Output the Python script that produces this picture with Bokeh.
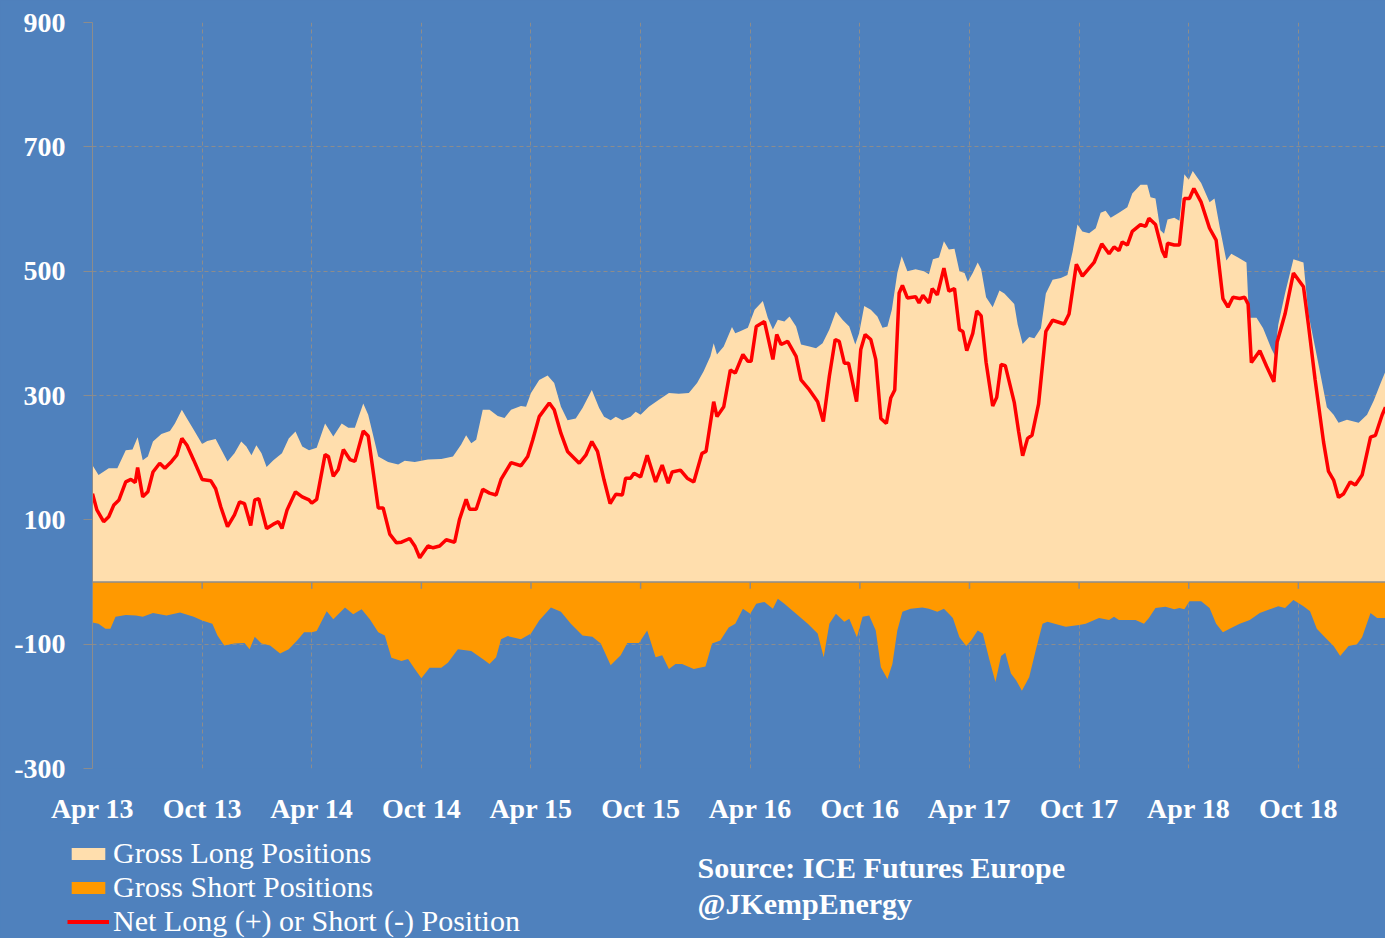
from bokeh.plotting import figure
from bokeh.layouts import column
from bokeh.models import Range1d, FixedTicker, Span, Legend, LegendItem, Label
from bokeh.embed import file_html
from bokeh.resources import INLINE

# ---- data (months since Apr 2013, thousand lots) ----
tick_months = [0, 6, 12, 18, 24, 30, 36, 42, 48, 54, 60, 66]
tick_labels = ["Apr 13", "Oct 13", "Apr 14", "Oct 14", "Apr 15", "Oct 15",
               "Apr 16", "Oct 16", "Apr 17", "Oct 17", "Apr 18", "Oct 18"]
y_ticks = [-300, -100, 100, 300, 500, 700, 900]
series_labels = ["Gross Long Positions", "Gross Short Positions", "Net Long (+) or Short (-) Position"]
source_lines = ["Source:  ICE Futures Europe", "@JKempEnergy"]

long_m = [0.00, 0.33, 0.89, 1.36, 1.82, 2.19, 2.47, 2.75, 3.03, 3.31, 3.77, 4.24, 4.51, 4.89, 5.17, 5.54,
          6.00, 6.28, 6.74, 7.39, 7.77, 8.14, 8.42, 8.70, 8.97, 9.25, 9.53, 9.90, 10.37, 10.74, 11.11, 11.48,
          11.85, 12.27, 12.73, 13.18, 13.64, 14.00, 14.36, 14.82, 15.09, 15.64, 16.18, 16.73, 17.09, 17.64,
          18.36, 19.09, 19.73, 20.18, 20.45, 20.73, 21.00, 21.36, 21.73, 22.18, 22.55, 22.91, 23.45, 23.73,
          24.00, 24.45, 24.91, 25.27, 25.64, 26.00, 26.45, 26.82, 27.33, 27.73, 28.00, 28.36, 28.64, 29.00,
          29.45, 29.73, 30.00, 30.45, 31.00, 31.55, 32.09, 32.64, 33.09, 33.45, 33.82, 34.00, 34.18, 34.55,
          35.00, 35.18, 35.42, 35.87, 36.24, 36.69, 36.96, 37.24, 37.51, 37.87, 38.15, 38.51, 38.78, 39.24,
          39.60, 39.96, 40.33, 40.69, 41.05, 41.42, 41.75, 41.96, 42.24, 42.60, 42.96, 43.24, 43.51, 43.75,
          44.05, 44.29, 44.60, 45.05, 45.51, 45.78, 46.00, 46.33, 46.60, 46.87, 47.18, 47.45, 47.73, 47.91,
          48.18, 48.45, 48.64, 48.91, 49.27, 49.64, 49.91, 50.45, 50.64, 50.91, 51.27, 51.55, 51.91, 52.18,
          52.55, 53.00, 53.36, 53.64, 53.91, 54.18, 54.55, 54.91, 55.18, 55.45, 55.73, 56.18, 56.64, 56.91,
          57.36, 57.73, 57.91, 58.18, 58.45, 58.65, 58.84, 59.21, 59.49, 59.76, 60.00, 60.22, 60.68, 61.14,
          61.41, 61.69, 62.06, 62.33, 62.70, 63.16, 63.30, 63.71, 64.07, 64.53, 64.72, 64.90, 65.27, 65.73,
          66.28, 66.55, 67.01, 67.56, 67.93, 68.20, 68.66, 69.03, 69.30, 69.76, 70.13, 70.49, 70.77]
long_v = [188, 172, 183, 183, 212, 213, 233, 196, 202, 226, 238, 243, 255, 277, 263, 245,
          222, 227, 230, 194, 207, 226, 218, 204, 220, 207, 185, 196, 207, 231, 242, 218,
          212, 216, 255, 234, 255, 248, 248, 287, 269, 202, 193, 189, 195, 193,
          197, 198, 202, 221, 236, 223, 229, 277, 277, 267, 264, 277, 283, 282,
          304, 325, 332, 320, 282, 260, 263, 280, 309, 280, 266, 260, 266, 260,
          266, 274, 269, 282, 293, 304, 303, 304, 320, 339, 363, 384, 366, 379,
          410, 400, 403, 409, 438, 452, 425, 406, 422, 419, 427, 411, 382, 379,
          376, 384, 406, 435, 422, 411, 382, 400, 444, 438, 427, 409, 411, 438,
          497, 524, 500, 503, 500, 495, 519, 522, 548, 535, 536, 500, 497, 483,
          497, 514, 503, 458, 442, 469, 464, 447, 414, 383, 394, 392, 408, 464,
          486, 489, 494, 531, 575, 564, 561, 569, 594, 597, 586, 594, 603, 625,
          639, 639, 619, 617, 566, 560, 583, 586, 581, 656, 647, 661, 642, 611,
          617, 572, 517, 528, 522, 514, 425, 425, 408, 375, 364, 414, 464, 519,
          514, 431, 364, 281, 269, 256, 261, 258, 256, 269, 292, 319, 339]

net_m = [0.00, 0.24, 0.61, 0.89, 1.17, 1.45, 1.82, 2.10, 2.34, 2.47, 2.75, 3.03, 3.31, 3.68, 3.96, 4.33,
         4.61, 4.89, 5.17, 5.54, 6.00, 6.47, 6.74, 7.02, 7.39, 7.77, 8.05, 8.32, 8.66, 8.88, 9.10, 9.53,
         9.90, 10.18, 10.37, 10.65, 11.11, 11.48, 11.85, 12.00, 12.27, 12.73, 12.91, 13.18, 13.45, 13.73,
         14.09, 14.36, 14.82, 15.09, 15.64, 15.91, 16.27, 16.64, 16.91, 17.36, 17.64, 17.91, 18.36, 18.64,
         19.00, 19.36, 19.82, 20.09, 20.45, 20.64, 21.00, 21.36, 21.73, 22.09, 22.36, 22.91, 23.45, 23.82,
         24.09, 24.45, 25.00, 25.27, 25.64, 26.00, 26.64, 27.00, 27.33, 27.64, 28.00, 28.33, 28.64, 29.00,
         29.18, 29.45, 29.64, 30.00, 30.36, 30.82, 31.18, 31.51, 31.73, 32.18, 32.55, 32.91, 33.36, 33.58,
         34.00, 34.18, 34.55, 34.91, 35.18, 35.60, 35.87, 36.05, 36.33, 36.78, 37.24, 37.45, 37.69, 38.05,
         38.51, 38.78, 39.24, 39.69, 40.00, 40.33, 40.65, 40.87, 41.15, 41.38, 41.82, 42.05, 42.29, 42.60,
         42.87, 43.15, 43.45, 43.69, 43.91, 44.15, 44.33, 44.60, 45.05, 45.24, 45.45, 45.78, 45.96, 46.24,
         46.60, 46.87, 47.18, 47.45, 47.64, 47.85, 48.18, 48.40, 48.64, 48.91, 49.27, 49.49, 49.73, 49.96,
         50.45, 50.69, 50.91, 51.18, 51.42, 51.78, 52.18, 52.55, 53.18, 53.45, 53.85, 54.18, 54.82, 55.24,
         55.64, 55.91, 56.18, 56.36, 56.64, 56.91, 57.36, 57.64, 57.82, 58.18, 58.55, 58.73, 58.84, 59.21,
         59.49, 59.76, 60.04, 60.28, 60.68, 61.14, 61.50, 61.87, 62.15, 62.42, 62.79, 63.06, 63.25, 63.43,
         63.89, 64.26, 64.66, 64.84, 65.27, 65.73, 66.28, 66.55, 66.92, 67.38, 67.65, 67.93, 68.20, 68.48,
         68.84, 69.12, 69.49, 69.95, 70.22, 70.59, 70.77]
net_v = [142, 116, 97, 105, 124, 132, 161, 165, 160, 184, 137, 145, 177, 191, 183, 194,
         204, 231, 220, 196, 165, 163, 150, 121, 89, 108, 129, 126, 91, 132, 134, 86,
         93, 97, 86, 116, 145, 137, 132, 127, 133, 205, 202, 170, 181, 213,
         197, 194, 243, 235, 119, 119, 77, 63, 64, 70, 58, 39, 58, 55,
         58, 68, 64, 101, 133, 117, 117, 149, 143, 140, 165, 192, 187, 202,
         228, 266, 288, 277, 239, 210, 191, 204, 226, 210, 164, 126, 141, 140,
         167, 167, 175, 169, 204, 161, 188, 159, 177, 180, 167, 161, 207, 210,
         290, 266, 282, 341, 336, 366, 355, 355, 411, 419, 358, 398, 382, 387,
         363, 325, 309, 290, 258, 331, 390, 387, 352, 352, 290, 374, 398, 390,
         358, 263, 255, 296, 309, 465, 477, 457, 459, 449, 461, 449, 472, 462,
         505, 468, 472, 406, 403, 372, 400, 436, 428, 353, 283, 297, 350, 348,
         289, 242, 203, 231, 236, 286, 403, 421, 415, 431, 511, 492, 514, 544,
         528, 539, 533, 547, 542, 564, 575, 572, 585, 575, 533, 522, 545, 542,
         542, 617, 617, 633, 611, 569, 550, 456, 442, 458, 456, 458, 447, 353,
         372, 347, 322, 386, 431, 497, 475, 414, 325, 225, 178, 164, 136, 142,
         161, 156, 172, 233, 236, 269, 281]

short_m = [0.00, 0.33, 0.71, 0.98, 1.26, 1.82, 2.38, 2.75, 3.31, 4.05, 4.79, 5.54, 6.00, 6.56, 6.84, 7.21,
           7.77, 8.32, 8.60, 8.88, 9.25, 9.72, 10.27, 10.74, 11.20, 11.58, 12.00, 12.27, 12.82, 13.18, 13.82,
           14.27, 14.73, 15.18, 15.64, 16.00, 16.36, 16.91, 17.27, 17.64, 18.00, 18.45, 19.09, 19.45, 20.00,
           20.73, 21.36, 21.73, 22.09, 22.36, 22.73, 23.45, 24.00, 24.45, 25.09, 25.64, 26.18, 26.82, 27.36,
           27.82, 28.36, 28.91, 29.27, 29.91, 30.36, 30.82, 31.18, 31.55, 31.91, 32.27, 32.91, 33.55, 33.91,
           34.36, 34.82, 35.18, 35.60, 36.00, 36.33, 36.78, 37.24, 37.51, 37.87, 38.51, 39.15, 39.69, 40.02,
           40.33, 40.69, 41.15, 41.42, 41.84, 42.15, 42.51, 42.87, 43.15, 43.51, 43.78, 44.05, 44.33, 44.78,
           45.42, 45.78, 46.24, 46.60, 46.87, 47.09, 47.45, 47.82, 48.09, 48.45, 48.73, 49.09, 49.42, 49.73,
           49.96, 50.27, 50.55, 50.87, 51.27, 51.64, 52.00, 52.27, 52.91, 53.27, 54.00, 54.36, 55.09, 55.64,
           55.91, 56.18, 57.09, 57.55, 57.82, 58.18, 58.73, 59.21, 59.49, 59.76, 60.04, 60.68, 61.14, 61.50,
           61.87, 62.24, 62.79, 63.34, 63.89, 64.44, 64.90, 65.27, 65.73, 66.28, 66.64, 67.01, 67.56, 67.93,
           68.29, 68.75, 69.21, 69.49, 69.95, 70.31, 70.77]
short_v = [-65, -67, -75, -75, -56, -53, -54, -56, -50, -54, -49, -56, -62, -67, -86, -102,
           -99, -98, -108, -88, -99, -102, -115, -108, -94, -81, -81, -79, -47, -60, -41,
           -52, -44, -60, -81, -86, -122, -127, -124, -140, -155, -138, -138, -130, -108,
           -111, -124, -132, -121, -92, -87, -92, -83, -62, -41, -48, -67, -86, -88,
           -99, -134, -118, -98, -98, -78, -121, -118, -140, -132, -132, -140, -136, -99,
           -94, -73, -67, -43, -51, -35, -32, -43, -27, -35, -51, -67, -83, -121,
           -67, -51, -64, -59, -89, -56, -54, -78, -137, -156, -132, -78, -48, -43,
           -41, -43, -48, -43, -51, -58, -89, -103, -94, -78, -83, -125, -161, -119,
           -114, -147, -158, -175, -153, -108, -67, -64, -69, -72, -69, -67, -58, -61,
           -56, -61, -61, -67, -58, -42, -40, -44, -42, -44, -31, -31, -42, -67,
           -81, -75, -67, -61, -50, -44, -39, -42, -29, -39, -47, -75, -92, -103,
           -119, -103, -100, -89, -50, -58, -58]

# ---- styling ----
BG = "#4F81BD"
GRID = "#8C8C8C"
LONG_C = "#FFDEAD"
SHORT_C = "#FF9900"
NET_C = "#FF0000"
FONT = "Liberation Serif"
W = 1385

p = figure(width=W, height=830, output_backend="svg", toolbar_location=None,
           x_range=Range1d(0, 70.77), y_range=Range1d(-300, 900),
           min_border_left=92, min_border_right=0, min_border_top=22, min_border_bottom=62)
p.frame_align = False
p.background_fill_color = BG
p.border_fill_color = BG
p.outline_line_color = None

p.varea(x=long_m, y1=0, y2=long_v, fill_color=LONG_C)
p.varea(x=short_m, y1=0, y2=short_v, fill_color=SHORT_C)
p.line(x=net_m, y=net_v, line_color=NET_C, line_width=3.5)

# horizontal axis crossing at zero, with its tick marks
p.add_layout(Span(location=0, dimension="width", line_color=GRID, line_width=1.5))
p.segment(x0=tick_months[1:], y0=0, x1=tick_months[1:], y1=-11, line_color=GRID, line_width=1.5)

# grids
p.xgrid.ticker = FixedTicker(ticks=tick_months)
p.ygrid.ticker = FixedTicker(ticks=y_ticks)
for g in (p.xgrid, p.ygrid):
    g.grid_line_color = GRID
    g.grid_line_dash = "4 3"
    g.grid_line_width = 1

# axes
p.xaxis.ticker = FixedTicker(ticks=tick_months)
p.xaxis.major_label_overrides = {m: lab for m, lab in zip(tick_months, tick_labels)}
p.xaxis.axis_line_color = None
p.xaxis.major_tick_line_color = None
p.xaxis.minor_tick_line_color = None
p.xaxis.major_label_standoff = 18

p.yaxis.ticker = FixedTicker(ticks=y_ticks)
p.yaxis.major_label_overrides = {v: str(v) for v in y_ticks}
p.yaxis.axis_line_color = GRID
p.yaxis.major_tick_line_color = GRID
p.yaxis.major_tick_in = 0
p.yaxis.major_tick_out = 9
p.yaxis.minor_tick_line_color = None
p.yaxis.major_label_standoff = 18

for ax in (p.xaxis, p.yaxis):
    ax.major_label_text_color = "white"
    ax.major_label_text_font = FONT
    ax.major_label_text_font_style = "bold"
    ax.major_label_text_font_size = "28px"

# ---- bottom strip: legend and source ----
q = figure(width=W, height=108, output_backend="svg", toolbar_location=None,
           x_range=Range1d(0, W), y_range=Range1d(108, 0),
           min_border_left=0, min_border_right=0, min_border_top=0, min_border_bottom=0)
q.frame_align = False
q.background_fill_color = BG
q.border_fill_color = BG
q.outline_line_color = None
q.axis.visible = False
q.grid.visible = False

# zero-size legend proxies (nothing visible is drawn by them)
k_long = q.varea(x=[0], y1=[0], y2=[0], fill_color=LONG_C)
k_short = q.varea(x=[0], y1=[0], y2=[0], fill_color=SHORT_C)
k_net = q.line(x=[0], y=[0], line_color=NET_C, line_width=4)

legend = Legend(items=[LegendItem(label=series_labels[0], renderers=[k_long]),
                       LegendItem(label=series_labels[1], renderers=[k_short]),
                       LegendItem(label=series_labels[2], renderers=[k_net])],
                location=(67, 0))
legend.background_fill_alpha = 0
legend.border_line_color = None
legend.label_text_color = "white"
legend.label_text_font = FONT
legend.label_text_font_size = "30px"
legend.glyph_width = 42
legend.glyph_height = 15
legend.label_height = 30
legend.label_standoff = 4
legend.spacing = 0
legend.padding = 0
legend.margin = 0
q.add_layout(legend)

for txt, yy in zip(source_lines, (37, 73)):
    q.add_layout(Label(x=697, y=yy, text=txt, text_baseline="middle", text_color="white",
                       text_font=FONT, text_font_style="bold", text_font_size="30px"))

layout = column(p, q, spacing=0, styles={"background-color": BG})
open("out.html", "w").write(file_html(layout, INLINE))
